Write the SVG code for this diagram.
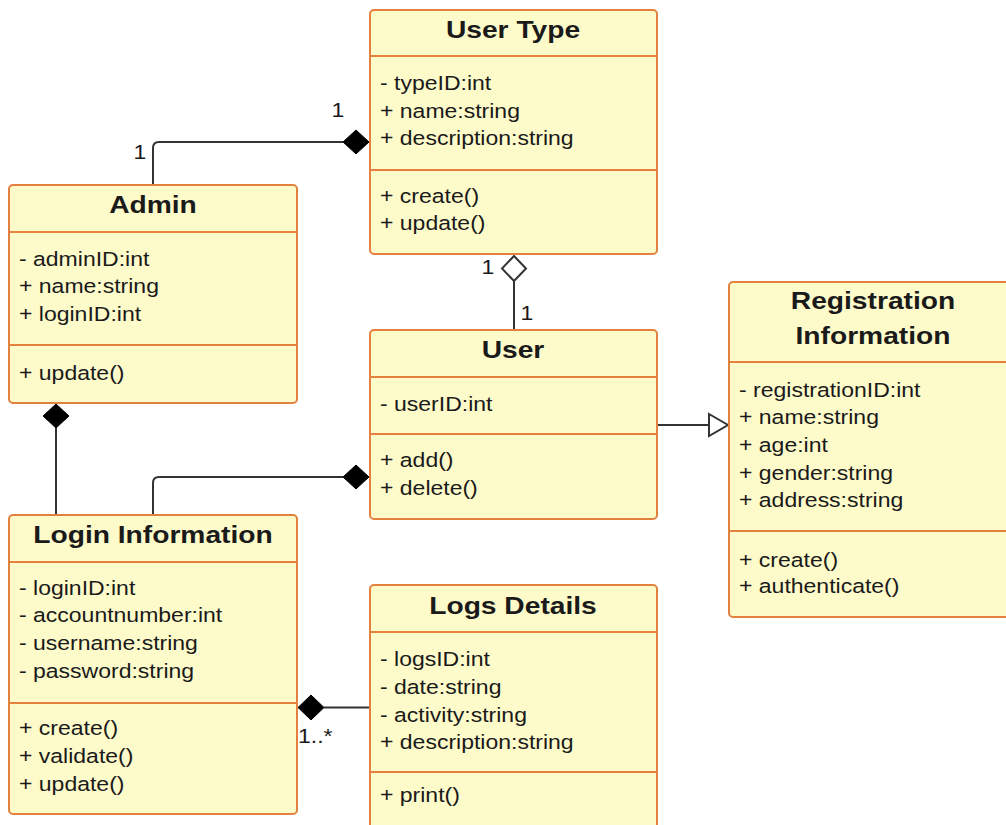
<svg xmlns="http://www.w3.org/2000/svg" width="1006" height="825" viewBox="0 0 1006 825">
<style>
.box{fill:#FEFBCB;stroke:#E4813F;stroke-width:2}
.sep{stroke:#E4813F;stroke-width:2}
.t{font-family:"Liberation Sans",Arial,sans-serif;font-weight:bold;font-size:23.5px;fill:#1a1a1a;text-anchor:middle}
.a{font-family:"Liberation Sans",Arial,sans-serif;font-size:19.5px;fill:#1a1a1a}
.m{font-family:"Liberation Sans",Arial,sans-serif;font-size:19.5px;fill:#1a1a1a;text-anchor:middle}
.ln{fill:none;stroke:#333;stroke-width:2}
.fd{fill:#000;stroke:#000;stroke-width:1}
.hd{fill:#fff;stroke:#333;stroke-width:2}
</style>
<rect width="1006" height="825" fill="#fff"/>
<g id="connectors">
<path class="ln" d="M153,185 V148 Q153,142 159,142 H343"/>
<polygon class="fd" points="343,142 356,130 369,142 356,154"/>
<text class="m" transform="translate(140,159) scale(1.18,1)">1</text>
<text class="m" transform="translate(338,117) scale(1.18,1)">1</text>
<path class="ln" d="M514,281 V330"/>
<polygon class="hd" points="514,256 526,268.5 514,281 502,268.5"/>
<text class="m" transform="translate(488,274) scale(1.18,1)">1</text>
<text class="m" transform="translate(527,320) scale(1.18,1)">1</text>
<path class="ln" d="M657,425 H709"/>
<polygon class="hd" points="709,414 728,425 709,436"/>
<path class="ln" d="M56,428 V515"/>
<polygon class="fd" points="56,404 69,416 56,428 43,416"/>
<path class="ln" d="M153,515 V483 Q153,477 159,477 H343"/>
<polygon class="fd" points="343,477 356,465 369,477 356,489"/>
<path class="ln" d="M324,707.5 H369"/>
<polygon class="fd" points="298,707.5 311,695 324,707.5 311,720"/>
<text class="a" transform="translate(298,743) scale(1.18,1)">1..*</text>
</g>
<g id="usertype">
<rect class="box" x="370" y="10" width="287" height="244" rx="4"/>
<line class="sep" x1="370" y1="56" x2="657" y2="56"/>
<line class="sep" x1="370" y1="170" x2="657" y2="170"/>
<text class="t" transform="translate(513,38) scale(1.2,1)">User Type</text>
<text class="a" transform="translate(380,90) scale(1.18,1)">- typeID:int</text>
<text class="a" transform="translate(380,118) scale(1.18,1)">+ name:string</text>
<text class="a" transform="translate(380,145) scale(1.18,1)">+ description:string</text>
<text class="a" transform="translate(380,203) scale(1.18,1)">+ create()</text>
<text class="a" transform="translate(380,230) scale(1.18,1)">+ update()</text>
</g>
<g id="admin">
<rect class="box" x="9" y="185" width="288" height="218" rx="4"/>
<line class="sep" x1="9" y1="232" x2="297" y2="232"/>
<line class="sep" x1="9" y1="345" x2="297" y2="345"/>
<text class="t" transform="translate(153,213) scale(1.2,1)">Admin</text>
<text class="a" transform="translate(19,266) scale(1.18,1)">- adminID:int</text>
<text class="a" transform="translate(19,293) scale(1.18,1)">+ name:string</text>
<text class="a" transform="translate(19,321) scale(1.18,1)">+ loginID:int</text>
<text class="a" transform="translate(19,380) scale(1.18,1)">+ update()</text>
</g>
<g id="user">
<rect class="box" x="370" y="330" width="287" height="189" rx="4"/>
<line class="sep" x1="370" y1="377" x2="657" y2="377"/>
<line class="sep" x1="370" y1="434" x2="657" y2="434"/>
<text class="t" transform="translate(513,358) scale(1.2,1)">User</text>
<text class="a" transform="translate(380,411) scale(1.18,1)">- userID:int</text>
<text class="a" transform="translate(380,467) scale(1.18,1)">+ add()</text>
<text class="a" transform="translate(380,495) scale(1.18,1)">+ delete()</text>
</g>
<g id="registration">
<rect class="box" x="729" y="282" width="288" height="335" rx="4"/>
<line class="sep" x1="729" y1="362" x2="1017" y2="362"/>
<line class="sep" x1="729" y1="531" x2="1017" y2="531"/>
<text class="t" transform="translate(873,309) scale(1.2,1)">Registration</text>
<text class="t" transform="translate(873,344) scale(1.2,1)">Information</text>
<text class="a" transform="translate(739,397) scale(1.18,1)">- registrationID:int</text>
<text class="a" transform="translate(739,424) scale(1.18,1)">+ name:string</text>
<text class="a" transform="translate(739,452) scale(1.18,1)">+ age:int</text>
<text class="a" transform="translate(739,480) scale(1.18,1)">+ gender:string</text>
<text class="a" transform="translate(739,507) scale(1.18,1)">+ address:string</text>
<text class="a" transform="translate(739,567) scale(1.18,1)">+ create()</text>
<text class="a" transform="translate(739,593) scale(1.18,1)">+ authenticate()</text>
</g>
<g id="login">
<rect class="box" x="9" y="515" width="288" height="299" rx="4"/>
<line class="sep" x1="9" y1="562" x2="297" y2="562"/>
<line class="sep" x1="9" y1="703" x2="297" y2="703"/>
<text class="t" transform="translate(153,543) scale(1.2,1)">Login Information</text>
<text class="a" transform="translate(19,595) scale(1.18,1)">- loginID:int</text>
<text class="a" transform="translate(19,622) scale(1.18,1)">- accountnumber:int</text>
<text class="a" transform="translate(19,650) scale(1.18,1)">- username:string</text>
<text class="a" transform="translate(19,678) scale(1.18,1)">- password:string</text>
<text class="a" transform="translate(19,735) scale(1.18,1)">+ create()</text>
<text class="a" transform="translate(19,763) scale(1.18,1)">+ validate()</text>
<text class="a" transform="translate(19,791) scale(1.18,1)">+ update()</text>
</g>
<g id="logs">
<rect class="box" x="370" y="585" width="287" height="260" rx="4"/>
<line class="sep" x1="370" y1="632" x2="657" y2="632"/>
<line class="sep" x1="370" y1="772" x2="657" y2="772"/>
<text class="t" transform="translate(513,614) scale(1.2,1)">Logs Details</text>
<text class="a" transform="translate(380,666) scale(1.18,1)">- logsID:int</text>
<text class="a" transform="translate(380,694) scale(1.18,1)">- date:string</text>
<text class="a" transform="translate(380,722) scale(1.18,1)">- activity:string</text>
<text class="a" transform="translate(380,749) scale(1.18,1)">+ description:string</text>
<text class="a" transform="translate(380,802) scale(1.18,1)">+ print()</text>
</g>
</svg>
